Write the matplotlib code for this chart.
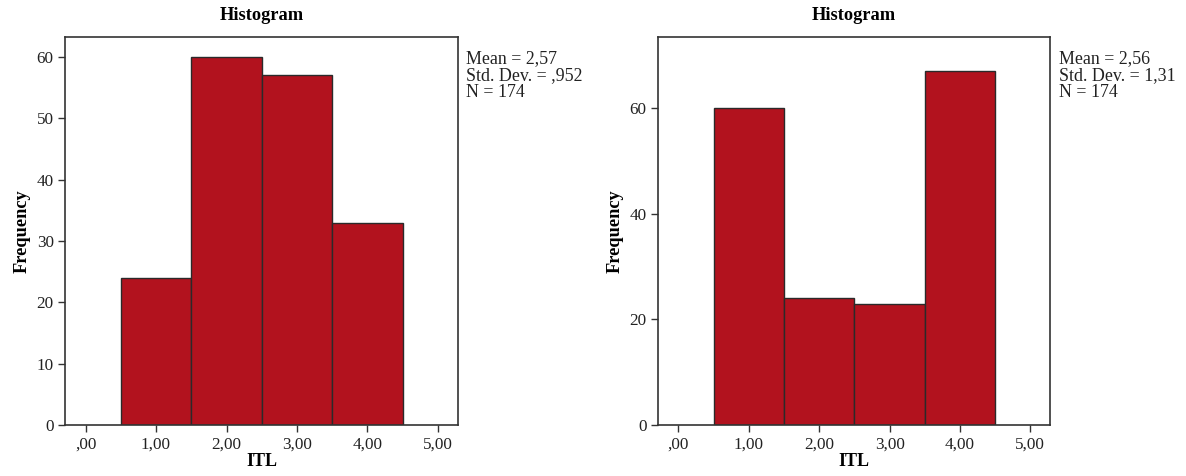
import matplotlib
matplotlib.use('Agg')
import matplotlib.pyplot as plt

# Bin centres and counts for each histogram
bin_centres = [1, 2, 3, 4]
left_counts = [24, 60, 57, 33]
right_counts = [60, 24, 23, 67]

x_ticks = [0, 1, 2, 3, 4, 5]
x_tick_labels = [',00', '1,00', '2,00', '3,00', '4,00', '5,00']
left_yticks = [0, 10, 20, 30, 40, 50, 60]
right_yticks = [0, 20, 40, 60]

left_stats = ['Mean = 2,57', 'Std. Dev. = ,952', 'N = 174']
right_stats = ['Mean = 2,56', 'Std. Dev. = 1,31', 'N = 174']

plt.rcParams['font.family'] = ['Liberation Serif', 'DejaVu Serif']

bar_color = '#b2121e'
edge_color = '#2a2a2a'

fig = plt.figure(figsize=(11.86, 4.76), dpi=100)
ax1 = fig.add_axes([0.0552, 0.1065, 0.3307, 0.8158])
ax2 = fig.add_axes([0.5551, 0.1065, 0.3303, 0.8158])

panels = [
    (ax1, left_counts, left_yticks, 63.2, left_stats),
    (ax2, right_counts, right_yticks, 73.4, right_stats),
]

for ax, counts, yticks, ytop, stats in panels:
    ax.bar(bin_centres, counts, width=1.0, color=bar_color,
           edgecolor=edge_color, linewidth=1.0, zorder=2)
    ax.set_xlim(-0.285, 5.28)
    ax.set_ylim(0, ytop)
    ax.set_xticks(x_ticks)
    ax.set_xticklabels(x_tick_labels)
    ax.set_yticks(yticks)
    ax.tick_params(axis='both', labelsize=12.3, length=5, width=1.0,
                   color='#333333', labelcolor='#222222', direction='out')
    for s in ax.spines.values():
        s.set_color('#333333')
        s.set_linewidth(1.2)
    ax.set_title('Histogram', fontsize=13.2, fontweight='bold', pad=12)
    ax.set_xlabel('ITL', fontsize=13, fontweight='bold', labelpad=0)
    ax.set_ylabel('Frequency', fontsize=13.2, fontweight='bold', labelpad=4)
    ax.text(1.022, 0.965, '\n'.join(stats), transform=ax.transAxes,
            fontsize=12.9, va='top', ha='left', color='#222222',
            linespacing=0.98)

fig.savefig('out.png', dpi=100)
